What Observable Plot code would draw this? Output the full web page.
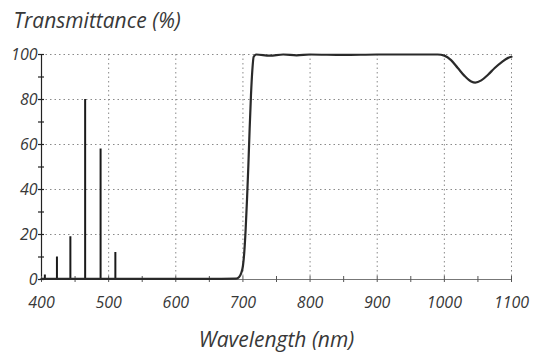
<!DOCTYPE html>
<html>
<head>
<meta charset="utf-8">
<script src="https://cdn.jsdelivr.net/npm/d3@7"></script>
<script src="https://cdn.jsdelivr.net/npm/@observablehq/plot@0.6"></script>
<style>
  html, body { margin: 0; padding: 0; background: #fff; }
  svg { display: block; }
</style>
</head>
<body>
<div id="chart"></div>
<script>
const titleText = "Transmittance (%)";
const xLabelText = "Wavelength (nm)";

const xTickLabels = [400, 500, 600, 700, 800, 900, 1000, 1100];
const yTickLabels = [0, 20, 40, 60, 80, 100];
const xMinorTicks = [400, 450, 500, 550, 600, 650, 700, 750, 800, 850, 900, 950, 1000, 1050, 1100];
const yMinorTicks = [0, 10, 20, 30, 40, 50, 60, 70, 80, 90, 100];
const xGrid = [500, 600, 700, 800, 900, 1000, 1100];
const yGrid = [20, 40, 60, 80, 100];

// emission spikes
const spikeWavelengths = [405, 423, 443, 465, 488, 510];
const spikeHeights = [2, 10, 19, 80, 58, 12];

// filter transmittance curve
const curveWavelengths = [400, 450, 500, 550, 600, 650, 690, 694, 697, 700, 702, 704, 706, 708, 710, 712, 714, 716, 720, 740, 760, 780, 800, 850, 900, 950, 990, 1000, 1010, 1020, 1030, 1040, 1046, 1055, 1065, 1075, 1085, 1095, 1100];
const curveValues = [0.3, 0.3, 0.3, 0.3, 0.3, 0.3, 0.4, 1, 2.5, 6, 12, 22, 35, 50, 67, 82, 93, 99, 100, 99.5, 100, 99.6, 100, 99.8, 100, 100, 100, 99.5, 97.5, 94, 90.5, 88, 87.5, 88.5, 91, 94, 96.5, 98.5, 99];

const spikes = spikeWavelengths.map((w, i) => ({w, h: spikeHeights[i]}));
const curve = curveWavelengths.map((w, i) => ({w, t: curveValues[i]}));

const font = "'Open Sans', sans-serif";
const textColor = "#383838";
const gridStyle = {stroke: "#8a8a8a", strokeOpacity: 1, strokeDasharray: "1.5,3", strokeWidth: 1};

const chart = Plot.plot({
  width: 537,
  height: 354,
  marginLeft: 41,
  marginRight: 26,
  marginTop: 54,
  marginBottom: 75,
  style: {fontFamily: font, background: "#fff"},
  x: {domain: [400, 1100]},
  y: {domain: [0, 100]},
  marks: [
    Plot.gridY(yGrid, gridStyle),
    Plot.gridX(xGrid, gridStyle),
    Plot.ruleY([0], {stroke: "#777", strokeWidth: 1}),
    Plot.ruleX([400], {stroke: "#222", strokeWidth: 1.2}),
    Plot.ruleX(xMinorTicks, {x: d => d, y1: 0, y2: 0, insetTop: -3, insetBottom: -3, stroke: "#555", strokeWidth: 1}),
    Plot.ruleY(yMinorTicks, {y: d => d, x1: 400, x2: 400, insetLeft: -3, insetRight: -3, stroke: "#222", strokeWidth: 1.2}),
    Plot.axisX(xTickLabels, {tickSize: 0, tickPadding: 17, fontSize: 16, fontStyle: "italic", fill: textColor, label: null, tickFormat: d => String(d)}),
    Plot.axisY(yTickLabels, {tickSize: 0, tickPadding: 4, fontSize: 16, fontStyle: "italic", fill: textColor, label: null}),
    Plot.ruleX(spikes, {x: "w", y1: 0, y2: "h", stroke: "#1a1a1a", strokeWidth: 2}),
    Plot.line(curve, {x: "w", y: "t", stroke: "#2a2a2a", strokeWidth: 2.2, curve: "monotone-x"}),
    Plot.text([titleText], {text: d => d, frameAnchor: "top-left", dx: -28, dy: -33, lineAnchor: "middle", textAnchor: "start", fontSize: 21, fontStyle: "italic", fill: textColor}),
    Plot.text([xLabelText], {text: d => d, frameAnchor: "bottom", dy: 61, lineAnchor: "middle", textAnchor: "middle", fontSize: 21, fontStyle: "italic", fill: textColor})
  ]
});
document.getElementById("chart").appendChild(chart);
</script>
</body>
</html>
